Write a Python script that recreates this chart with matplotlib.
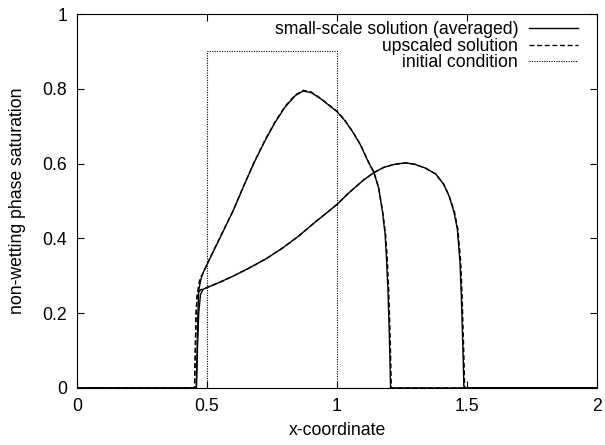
import matplotlib
matplotlib.use("Agg")
import matplotlib.pyplot as plt

plt.rcParams['font.family'] = ['Liberation Sans', 'DejaVu Sans']

# initial condition
x_init = [0.0, 0.5, 0.5, 1.0, 1.0, 2.0]
s_init = [0.0, 0.0, 0.9, 0.9, 0.0, 0.0]

# earlier time (peak ~0.79)
x_a = [0.0, 0.459, 0.462, 0.465, 0.468, 0.476, 0.488, 0.50, 0.52, 0.56, 0.60,
       0.64, 0.68, 0.72, 0.76, 0.80, 0.84, 0.87, 0.90, 0.94, 0.98, 1.00, 1.03,
       1.06, 1.09, 1.12, 1.142, 1.16, 1.175, 1.185, 1.19, 1.196, 1.201, 1.206, 2.0]
s_a_avg = [0.0, 0.0, 0.1, 0.2, 0.26, 0.29, 0.313, 0.330, 0.359, 0.416, 0.473,
           0.538, 0.601, 0.657, 0.708, 0.751, 0.782, 0.794, 0.79, 0.772, 0.75,
           0.739, 0.715, 0.685, 0.65, 0.605, 0.576, 0.535, 0.47, 0.41, 0.35,
           0.26, 0.15, 0.0, 0.0]
x_a_up = [0.0, 0.452, 0.455, 0.458, 0.462, 0.472, 0.488, 0.50, 0.52, 0.56, 0.60,
          0.64, 0.68, 0.72, 0.76, 0.80, 0.84, 0.87, 0.90, 0.94, 0.98, 1.00, 1.03,
          1.06, 1.09, 1.12, 1.142, 1.16, 1.176, 1.187, 1.193, 1.199, 1.204, 1.209, 2.0]
s_a_up = [0.0, 0.0, 0.1, 0.2, 0.25, 0.29, 0.313, 0.330, 0.360, 0.417, 0.474,
          0.539, 0.602, 0.659, 0.71, 0.753, 0.784, 0.796, 0.792, 0.773, 0.751,
          0.74, 0.716, 0.686, 0.651, 0.606, 0.577, 0.536, 0.47, 0.41, 0.35,
          0.26, 0.15, 0.0, 0.0]

# later time (peak ~0.60)
x_b = [0.0, 0.459, 0.463, 0.468, 0.475, 0.485, 0.55, 0.60, 0.66, 0.726, 0.79,
       0.854, 0.92, 0.96, 1.00, 1.046, 1.10, 1.142, 1.18, 1.22, 1.264, 1.30,
       1.34, 1.38, 1.41, 1.431, 1.45, 1.463, 1.473, 1.478, 1.482, 1.486, 1.488, 2.0]
s_b_avg = [0.0, 0.0, 0.1, 0.2, 0.25, 0.264, 0.283, 0.299, 0.32, 0.345, 0.374,
           0.407, 0.446, 0.468, 0.491, 0.522, 0.555, 0.576, 0.59, 0.598, 0.602,
           0.598, 0.588, 0.572, 0.545, 0.513, 0.47, 0.424, 0.335, 0.25, 0.157,
           0.06, 0.0, 0.0]
x_b_up = [0.0, 0.452, 0.455, 0.458, 0.462, 0.474, 0.55, 0.60, 0.66, 0.726, 0.79,
          0.854, 0.92, 0.96, 1.00, 1.046, 1.10, 1.142, 1.18, 1.22, 1.264, 1.30,
          1.34, 1.38, 1.41, 1.432, 1.452, 1.465, 1.476, 1.481, 1.485, 1.489, 1.491, 2.0]
s_b_up = [0.0, 0.0, 0.1, 0.2, 0.245, 0.262, 0.283, 0.299, 0.32, 0.345, 0.374,
          0.407, 0.446, 0.468, 0.491, 0.522, 0.555, 0.576, 0.59, 0.598, 0.602,
          0.598, 0.588, 0.572, 0.545, 0.513, 0.47, 0.424, 0.335, 0.25, 0.157,
          0.06, 0.0, 0.0]

fs = 12.7
fig = plt.figure(figsize=(6.05, 4.45), dpi=100)
ax = fig.add_axes([0.1273, 0.1281, 0.8595, 0.8404])

ax.plot(x_a, s_a_avg, color='black', lw=1.0, label='small-scale solution (averaged)')
ax.plot(x_a_up, s_a_up, color='black', lw=1.0, linestyle=(0, (3.5, 2)),
        label='upscaled solution')
ax.plot(x_init, s_init, color='black', lw=0.8, linestyle=(0, (1, 1.2)),
        label='initial condition')
ax.plot(x_b, s_b_avg, color='black', lw=1.0)
ax.plot(x_b_up, s_b_up, color='black', lw=1.0, linestyle=(0, (3.5, 2)))

ax.set_xlim(0, 2)
ax.set_ylim(0, 1)
ax.set_xticks([0, 0.5, 1, 1.5, 2])
ax.set_xticklabels(['0', '0.5', '1', '1.5', '2'])
ax.set_yticks([0, 0.2, 0.4, 0.6, 0.8, 1])
ax.set_yticklabels(['0', '0.2', '0.4', '0.6', '0.8', '1'])
ax.tick_params(direction='in', top=True, right=True, length=5, labelsize=fs, pad=7)
ax.set_xlabel('x-coordinate', fontsize=fs, labelpad=5)
ax.set_ylabel('non-wetting phase saturation', fontsize=fs, labelpad=12)

ax.legend(loc='upper right', bbox_to_anchor=(0.9635, 0.98), frameon=False,
          markerfirst=False, fontsize=fs, handlelength=2.77, labelspacing=-0.04,
          borderaxespad=0, borderpad=0, handletextpad=0.62)

fig.savefig('out.png', dpi=100)
